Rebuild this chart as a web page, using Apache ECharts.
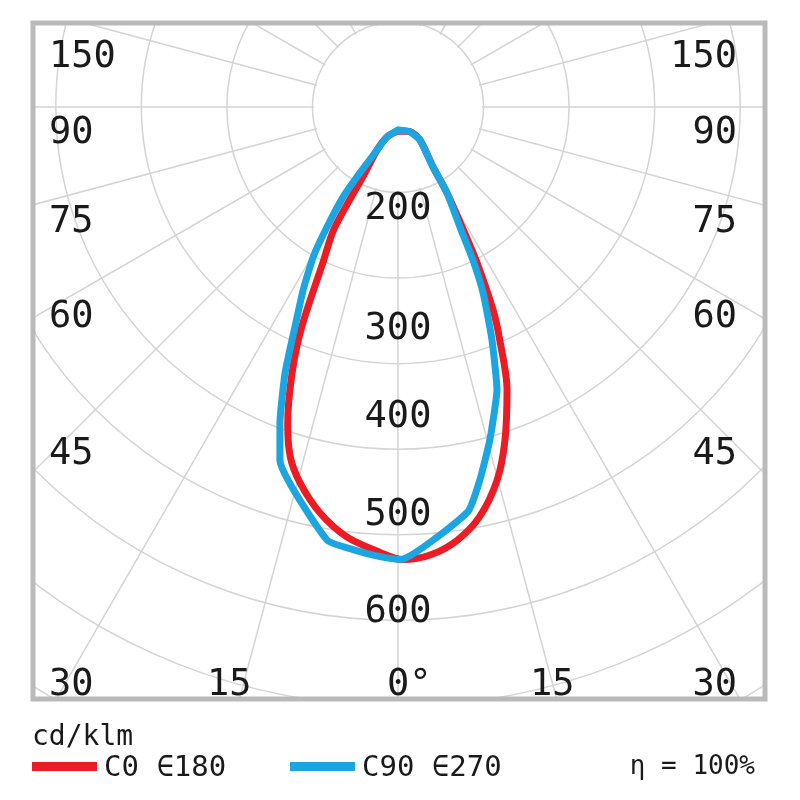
<!DOCTYPE html>
<html>
<head>
<meta charset="utf-8">
<script src="https://cdn.jsdelivr.net/npm/echarts@6/dist/echarts.min.js"></script>
<style>
  html, body { margin: 0; padding: 0; background: #fff; }
  #chart { width: 800px; height: 800px; }
</style>
</head>
<body>
<div id="chart"></div>
<script>
// C0-C180 (red), angle from nadir (negative = left half), value in cd/klm
const redAngles = [0, -20, -26, -26.6, -27.7, -25.8, -23.6, -21.7, -19.2, -17.1, -14.6, -10.9, -6.8, -2.3, 0.6,
  4.1, 7.8, 11.3, 14.9, 17.8, 21.1, 23.6, 25.1, 27.0, 28.1, 29.7, 30.3, 33.7, 25.6, 0];
const redValues = [28, 37, 56, 86, 160, 201, 282, 335, 392, 428, 454, 483, 506, 521, 529,
  525, 511, 488, 451, 409, 354, 297, 262, 201, 159, 116, 81, 46, 32, 28];

// C90-C270 (blue)
const blueAngles = [0, -20, -26, -30, -31.4, -30.6, -29.5, -27.4, -25.1, -23.0, -20.5, -18.5, -9.3, -5.8, -2.3, 0.3,
  9.8, 12.4, 15.4, 19.3, 22.0, 24.6, 26.1, 27.3, 29.7, 30.3, 33.7, 25.6, 0];
const blueValues = [27, 37, 56, 89, 123, 163, 201, 241, 284, 338, 394, 435, 513, 520, 526, 529,
  480, 446, 404, 350, 293, 239, 199, 158, 116, 81, 46, 32, 27];

const ringLabels = [200, 300, 400, 500, 600];
const ringLabelShift = [-69, -34, -32, -19, -8];

const sideLabels = ['150', '90', '75', '60', '45', '30'];
const sideLabelY = [57, 133, 222, 317, 454, 685];
const bottomLabels = ['15', '0°', '15'];
const bottomLabelX = [207, 387, 530];

const font = '"DejaVu Sans Mono", monospace';
const red = '#ec1c24';
const blue = '#1ba5e1';
const gridColor = '#d4d4d4';
const ink = '#1a1a1a';

const pairs = (vals, angs) => vals.map((v, i) => [v, angs[i]]);

const graphics = [
  // inner empty disk
  { type: 'circle', shape: { cx: 398, cy: 107, r: 84 }, style: { fill: '#fff' }, z: 1, silent: true },
  // mask outside the frame
  { type: 'rect', shape: { x: 0, y: 0, width: 800, height: 21 }, style: { fill: '#fff' }, z: 5 },
  { type: 'rect', shape: { x: 0, y: 0, width: 31, height: 800 }, style: { fill: '#fff' }, z: 5 },
  { type: 'rect', shape: { x: 767, y: 0, width: 33, height: 800 }, style: { fill: '#fff' }, z: 5 },
  { type: 'rect', shape: { x: 0, y: 701, width: 800, height: 99 }, style: { fill: '#fff' }, z: 5 },
  // frame
  { type: 'rect', shape: { x: 33, y: 23, width: 732, height: 676 },
    style: { fill: 'none', stroke: '#bababa', lineWidth: 5 }, z: 10 },
  // legend
  { type: 'text', x: 32, y: 738, z: 12,
    style: { text: 'cd/klm', font: '28px ' + font, fill: ink, verticalAlign: 'middle' } },
  { type: 'rect', shape: { x: 32, y: 762, width: 65, height: 9 }, style: { fill: red }, z: 12 },
  { type: 'text', x: 104, y: 768, z: 12,
    style: { text: 'C0 ∈180', font: '29px ' + font, fill: ink, verticalAlign: 'middle' } },
  { type: 'rect', shape: { x: 290, y: 762, width: 65, height: 9 }, style: { fill: blue }, z: 12 },
  { type: 'text', x: 362, y: 768, z: 12,
    style: { text: 'C90 ∈270', font: '29px ' + font, fill: ink, verticalAlign: 'middle' } },
  { type: 'text', x: 755, y: 767, z: 12,
    style: { text: 'η = 100%', font: '26px ' + font, fill: ink, align: 'right', verticalAlign: 'middle' } }
];

sideLabels.forEach((t, i) => {
  graphics.push({ type: 'text', x: 49, y: sideLabelY[i], z: 12,
    style: { text: t, font: '37px ' + font, fill: ink, verticalAlign: 'middle' } });
  graphics.push({ type: 'text', x: 737, y: sideLabelY[i], z: 12,
    style: { text: t, font: '37px ' + font, fill: ink, align: 'right', verticalAlign: 'middle' } });
});
bottomLabels.forEach((t, i) => {
  graphics.push({ type: 'text', x: bottomLabelX[i], y: 685, z: 12,
    style: { text: t, font: '37px ' + font, fill: ink, verticalAlign: 'middle' } });
});

const option = {
  animation: false,
  backgroundColor: '#fff',
  polar: { center: [398, 107], radius: 770 },
  angleAxis: {
    type: 'value', min: -180, max: 180, interval: 15,
    startAngle: 90, clockwise: false,
    axisLine: { show: false }, axisTick: { show: false }, axisLabel: { show: false },
    splitLine: { show: true, lineStyle: { color: gridColor, width: 1.5 } }
  },
  radiusAxis: {
    type: 'value', min: 0, max: 900, interval: 100,
    axisLine: { show: false }, axisTick: { show: false }, axisLabel: { show: false },
    splitLine: { show: true, lineStyle: { color: gridColor, width: 1.5 } }
  },
  graphic: graphics,
  series: [
    {
      name: 'C0 - C180', type: 'line', coordinateSystem: 'polar',
      data: pairs(redValues, redAngles), symbol: 'none', smooth: 0.3, z: 3,
      lineStyle: { color: red, width: 7, cap: 'round', join: 'round' }
    },
    {
      name: 'C90 - C270', type: 'line', coordinateSystem: 'polar',
      data: pairs(blueValues, blueAngles), symbol: 'none', smooth: 0.15, z: 4,
      lineStyle: { color: blue, width: 7, cap: 'round', join: 'round' }
    },
    {
      name: 'rings', type: 'scatter', coordinateSystem: 'polar', symbolSize: 0, silent: true, z: 6,
      itemStyle: { opacity: 1 },
      data: ringLabels.map((v, i) => ({ value: [v, 0], label: { offset: [0, ringLabelShift[i]] } })),
      label: {
        show: true, position: 'inside', formatter: p => p.value[0],
        fontFamily: font, fontSize: 37, color: ink, opacity: 1, textBorderWidth: 0
      }
    }
  ]
};

const chart = echarts.init(document.getElementById('chart'));
chart.setOption(option);
</script>
</body>
</html>
